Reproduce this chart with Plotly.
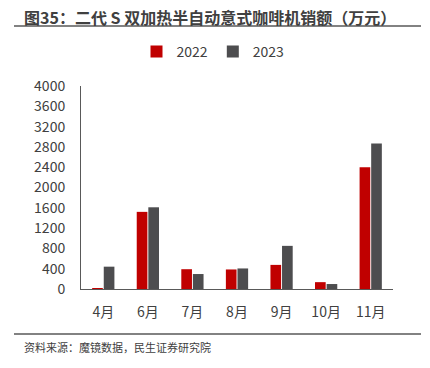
import plotly.graph_objects as go

months = ["4月", "6月", "7月", "8月", "9月", "10月", "11月"]
sales_2022 = [10, 1520, 390, 385, 475, 135, 2400]
sales_2023 = [440, 1610, 295, 405, 850, 98, 2865]
y_ticks = list(range(0, 4001, 400))

L, R, T, B = 81, 37, 86, 79
W, H = 430, 368
pw = W - L - R
ph = H - T - B

def px(x):
    return (x - L) / pw

def py(y):
    return (H - B - y) / ph

font = "Noto Sans CJK SC, Noto Sans, sans-serif"
fig = go.Figure()
fig.add_trace(go.Bar(x=months, y=sales_2022, name="2022", marker=dict(color="#C00000", line=dict(width=0))))
fig.add_trace(go.Bar(x=months, y=sales_2023, name="2023", marker=dict(color="#4D4D4F", line=dict(width=0))))

fig.update_layout(
    width=W, height=H,
    margin=dict(l=L, r=R, t=T, b=B, autoexpand=False),
    paper_bgcolor="white", plot_bgcolor="white",
    font=dict(family=font, size=13, color="#404040"),
    barmode="group", bargap=0.48, bargroupgap=0.08,
    showlegend=True,
    legend=dict(orientation="h", x=px(213), xanchor="center", y=py(52), yanchor="middle",
                font=dict(size=14, color="#404040"), itemwidth=30, traceorder="normal",
                tracegroupgap=0),
    xaxis=dict(showline=True, linecolor="#595959", linewidth=1, ticks="", showgrid=False,
               ticklabelstandoff=10, tickfont=dict(size=14, color="#404040")),
    yaxis=dict(range=[0, 4000], tickvals=y_ticks, showline=True, linecolor="#595959", linewidth=1,
               ticks="", showgrid=False, zeroline=False, ticklabelstandoff=12,
               tickfont=dict(size=14, color="#404040")),
)

fig.add_annotation(text="<b>图35：二代 S 双加热半自动意式咖啡机销额（万元）</b>", xref="paper", yref="paper",
                   x=px(22), y=py(17), xanchor="left", yanchor="middle", showarrow=False,
                   font=dict(size=16, color="#404040", family=font))
fig.add_shape(type="line", xref="paper", yref="paper", x0=px(14), x1=px(421), y0=py(26), y1=py(26),
              line=dict(color="#595959", width=1.5))
fig.add_shape(type="line", xref="paper", yref="paper", x0=px(14), x1=px(421), y0=py(334), y1=py(334),
              line=dict(color="#595959", width=1.5))
fig.add_annotation(text="资料来源：魔镜数据，民生证券研究院", xref="paper", yref="paper",
                   x=px(22), y=py(347), xanchor="left", yanchor="middle", showarrow=False,
                   font=dict(size=11, color="#404040", family=font))

fig.write_html("out.html", config={"displayModeBar": False},
               post_script="document.body.style.margin='0';document.body.style.overflow='hidden';")
